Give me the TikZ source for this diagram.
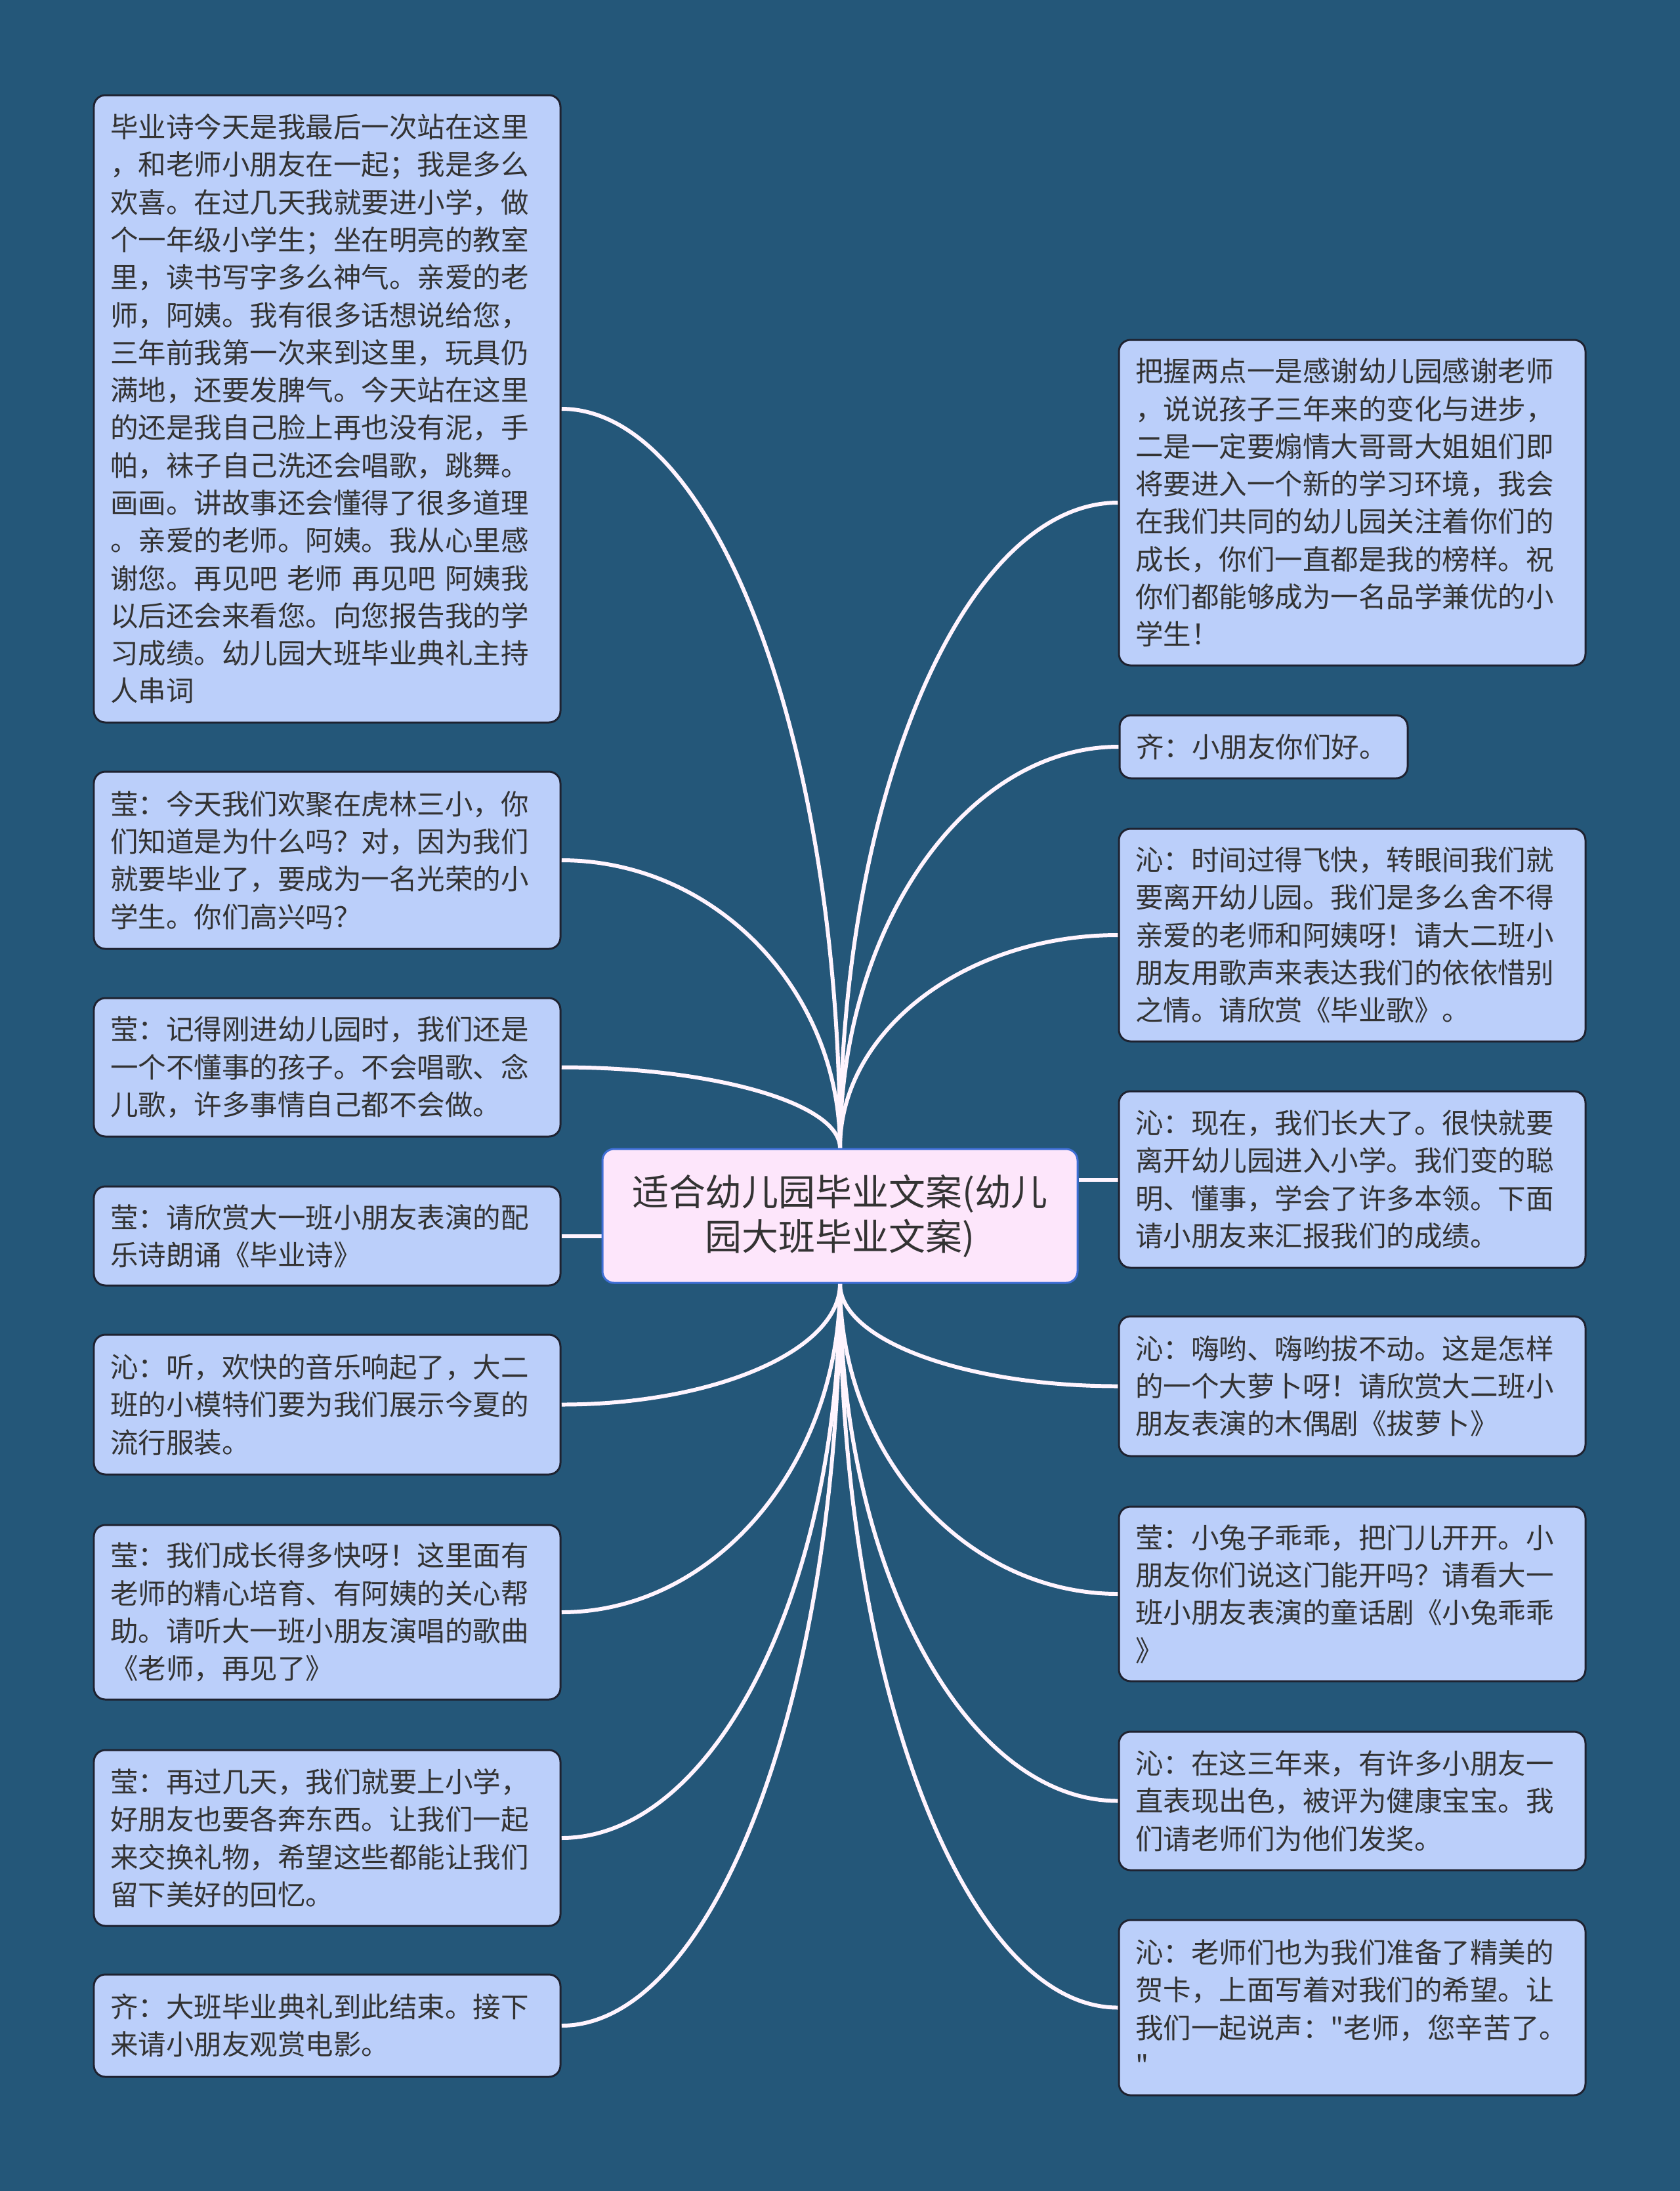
\documentclass[tikz,border=0pt]{standalone}
\usepackage{fontspec}
\setmainfont{Noto Sans CJK SC}
\newfontfamily\qfont{Noto Sans CJK SC}
\usetikzlibrary{calc, backgrounds}
\definecolor{cbg}{HTML}{245779}
\definecolor{cleaf}{HTML}{BBCFFA}
\definecolor{cedge}{HTML}{1E2230}
\definecolor{croot}{HTML}{FDE6FB}
\definecolor{crootedge}{HTML}{3F6FD6}
\definecolor{ctext}{HTML}{333333}
\definecolor{clink}{HTML}{FFF4FE}
\tikzset{
  leaf/.style={draw=cedge, fill=cleaf, line width=0.85pt, rounded corners=5pt, text=ctext, align=left, text width=6.61cm, inner xsep=0.25cm, inner ysep=0.2cm, font=\fontsize{12.1}{16.3}\selectfont},
  topic/.style={draw=crootedge, fill=croot, line width=0.85pt, rounded corners=5pt, text=ctext, align=center, minimum width=7.24cm, minimum height=2.04cm, font=\fontsize{15.9}{19.3}\selectfont},
  link/.style={draw=clink, line width=1.7pt},
  branch/.style={to path={.. controls ($(\tikztostart)!0.55!(\tikztostart |- \tikztotarget)$) and ($(\tikztotarget)!0.55!(\tikztostart |- \tikztotarget)$) .. (\tikztotarget)}},
}
\begin{document}
\begin{tikzpicture}
  \useasboundingbox (0,0) rectangle (25.6,-33.39);
  % centre
  \node[topic] (topic) at (12.80,-18.53) {适合幼儿园毕业文案(幼儿\\园大班毕业文案)};
  % left column
  \node[leaf, minimum height=9.56cm] (l1) at (4.985,-6.23) {毕业诗今天是我最后一次站在这里\\，和老师小朋友在一起；我是多么\\欢喜。在过几天我就要进小学，做\\个一年级小学生；坐在明亮的教室\\里，读书写字多么神气。亲爱的老\\师，阿姨。我有很多话想说给您，\\三年前我第一次来到这里，玩具仍\\满地，还要发脾气。今天站在这里\\的还是我自己脸上再也没有泥，手\\帕，袜子自己洗还会唱歌，跳舞。\\画画。讲故事还会懂得了很多道理\\。亲爱的老师。阿姨。我从心里感\\谢您。再见吧 老师 再见吧 阿姨我\\以后还会来看您。向您报告我的学\\习成绩。幼儿园大班毕业典礼主持\\人串词};
  \node[leaf, minimum height=2.70cm] (l2) at (4.985,-13.11) {莹：今天我们欢聚在虎林三小，你\\们知道是为什么吗？对，因为我们\\就要毕业了，要成为一名光荣的小\\学生。你们高兴吗？};
  \node[leaf, minimum height=2.11cm] (l3) at (4.985,-16.265) {莹：记得刚进幼儿园时，我们还是\\一个不懂事的孩子。不会唱歌、念\\儿歌，许多事情自己都不会做。};
  \node[leaf, minimum height=1.51cm] (l4) at (4.985,-18.835) {莹：请欣赏大一班小朋友表演的配\\乐诗朗诵《毕业诗》};
  \node[leaf, minimum height=2.13cm] (l5) at (4.985,-21.405) {沁：听，欢快的音乐响起了，大二\\班的小模特们要为我们展示今夏的\\流行服装。};
  \node[leaf, minimum height=2.66cm] (l6) at (4.985,-24.57) {莹：我们成长得多快呀！这里面有\\老师的精心培育、有阿姨的关心帮\\助。请听大一班小朋友演唱的歌曲\\《老师，再见了》};
  \node[leaf, minimum height=2.68cm] (l7) at (4.985,-28.01) {莹：再过几天，我们就要上小学，\\好朋友也要各奔东西。让我们一起\\来交换礼物，希望这些都能让我们\\留下美好的回忆。};
  \node[leaf, minimum height=1.56cm] (l8) at (4.985,-30.87) {齐：大班毕业典礼到此结束。接下\\来请小朋友观赏电影。};
  % right column
  \node[leaf, minimum height=4.96cm] (r1) at (20.605,-7.66) {把握两点一是感谢幼儿园感谢老师\\，说说孩子三年来的变化与进步，\\二是一定要煽情大哥哥大姐姐们即\\将要进入一个新的学习环境，我会\\在我们共同的幼儿园关注着你们的\\成长，你们一直都是我的榜样。祝\\你们都能够成为一名品学兼优的小\\学生！};
  \node[leaf, text width=3.89cm, minimum height=0.96cm] (r2) at (19.255,-11.38) {齐：小朋友你们好。};
  \node[leaf, minimum height=3.24cm] (r3) at (20.605,-14.25) {沁：时间过得飞快，转眼间我们就\\要离开幼儿园。我们是多么舍不得\\亲爱的老师和阿姨呀！请大二班小\\朋友用歌声来表达我们的依依惜别\\之情。请欣赏《毕业歌》。};
  \node[leaf, minimum height=2.69cm] (r4) at (20.605,-17.975) {沁：现在，我们长大了。很快就要\\离开幼儿园进入小学。我们变的聪\\明、懂事，学会了许多本领。下面\\请小朋友来汇报我们的成绩。};
  \node[leaf, minimum height=2.13cm] (r5) at (20.605,-21.125) {沁：嗨哟、嗨哟拔不动。这是怎样\\的一个大萝卜呀！请欣赏大二班小\\朋友表演的木偶剧《拔萝卜》};
  \node[leaf, minimum height=2.66cm] (r6) at (20.605,-24.29) {莹：小兔子乖乖，把门儿开开。小\\朋友你们说这门能开吗？请看大一\\班小朋友表演的童话剧《小兔乖乖\\》};
  \node[leaf, minimum height=2.11cm] (r7) at (20.605,-27.445) {沁：在这三年来，有许多小朋友一\\直表现出色，被评为健康宝宝。我\\们请老师们为他们发奖。};
  \node[leaf, minimum height=2.67cm] (r8) at (20.605,-30.595) {沁：老师们也为我们准备了精美的\\贺卡，上面写着对我们的希望。让\\我们一起说声：{\qfont"}老师，您辛苦了。\\{\qfont"}};
  % connectors behind the boxes
  \begin{scope}[on background layer]
    \fill[cbg] (0,0) rectangle (25.6,-33.39);
    \foreach \n in {l1, l2, l3} { \draw[link] (topic.north) to[branch] (\n.east); }
    \foreach \n in {l5, l6, l7, l8} { \draw[link] (topic.south) to[branch] (\n.east); }
    \foreach \n in {r1, r2, r3} { \draw[link] (topic.north) to[branch] (\n.west); }
    \foreach \n in {r5, r6, r7, r8} { \draw[link] (topic.south) to[branch] (\n.west); }
    \draw[link] (l4.east) -- (l4.east -| topic.west);
    \draw[link] (r4.west) -- (r4.west -| topic.east);
  \end{scope}
\end{tikzpicture}
\end{document}
